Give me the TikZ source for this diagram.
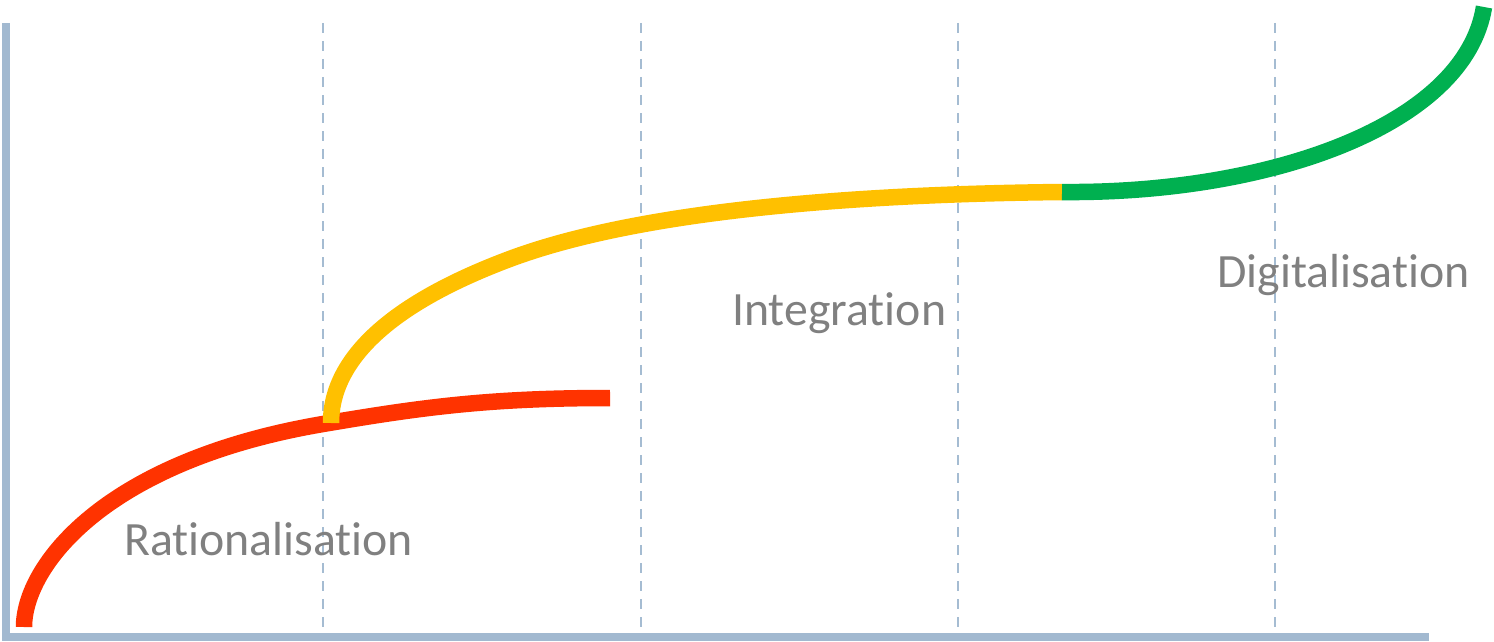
\documentclass[tikz,border=0pt]{standalone}
\usepackage{fontspec}
\setmainfont{Carlito}[Ligatures={NoCommon}]
\definecolor{axisblue}{RGB}{162,185,208}
\definecolor{gridblue}{RGB}{165,188,210}
\definecolor{redc}{RGB}{255,51,0}
\definecolor{yellowc}{RGB}{255,192,0}
\definecolor{greenc}{RGB}{0,176,80}
\definecolor{labelgrey}{RGB}{128,128,128}
\begin{document}
\begin{tikzpicture}[x=1pt,y=-1pt,
  axisline/.style={draw=axisblue,line width=8pt},
  gridline/.style={draw=gridblue,line width=2.2pt,dash pattern=on 10pt off 8pt},
  curve/.style={line width=16.5pt,line cap=butt},
  phase/.style={text=labelgrey,font=\fontsize{47.8}{51}\selectfont,anchor=base west,inner sep=0pt}]
\useasboundingbox (0,0) rectangle (1494,642);
% grid
\foreach \gx in {323,641,958,1275}{
  \draw[gridline] (\gx,23) -- (\gx,633);
}
% axes
\draw[axisline] (6,23) -- (6,641);
\draw[axisline] (2,637) -- (1429,637);
% curves
\draw[curve,draw=redc] (24,627) .. controls (24,567) and (103,461.4) .. (323,424)
  .. controls (423,407) and (490,398) .. (610,398);
\draw[curve,draw=yellowc] (331,423) .. controls (331,338) and (437,286.6) .. (507,260)
  .. controls (647,206.8) and (880,194) .. (1062,192);
\draw[curve,draw=greenc] (1062,192) .. controls (1270,194) and (1465,125) .. (1484,7);
% labels
\node[phase] (rat) at (124,555) {Rationalisation};
\node[phase] (int) at (732,325) {Integration};
\node[phase] (dig) at (1217,287) {Digitalisation};
\end{tikzpicture}
\end{document}
